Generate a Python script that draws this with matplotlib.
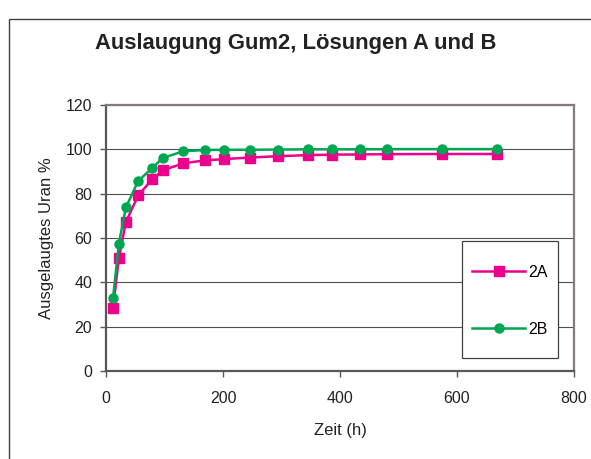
import matplotlib.pyplot as plt
from matplotlib.patches import Rectangle

plt.rcParams['font.family'] = ['Liberation Sans', 'DejaVu Sans']

# leaching time (h) and leached uranium (%)
zeit = [12, 22, 34, 55, 79, 97, 132, 169, 202, 246, 294, 346, 387, 434, 480, 575, 669]
uran_2a = [28.2, 51.0, 67.2, 79.2, 86.5, 90.5, 93.7, 95.0, 95.6, 96.3, 96.9, 97.4, 97.6, 97.7, 97.8, 97.9, 97.9]
uran_2b = [33.0, 57.5, 73.8, 85.7, 91.6, 96.1, 99.1, 99.7, 99.8, 99.8, 99.9, 100.0, 100.0, 100.0, 100.1, 100.1, 100.1]
y_ticks = [0, 20, 40, 60, 80, 100, 120]
x_ticks = [0, 200, 400, 600, 800]

pink = '#EC008C'
green = '#00A651'
frame = '#857b7b'

fig = plt.figure(figsize=(5.91, 4.59), dpi=100)

# outer chart border (runs off the right and bottom edges)
fig.patches.append(Rectangle((9 / 591, -0.1), 1.2, 1 - 19.5 / 459 + 0.1,
                             transform=fig.transFigure, fill=False,
                             edgecolor='#404040', linewidth=1.0))

ax = fig.add_axes([106 / 591, 1 - 371 / 459, 468 / 591, 266 / 459])

ax.plot(zeit, uran_2a, color=pink, linewidth=1.8, marker='s',
        markersize=6.5, label='2A', zorder=3)
ax.plot(zeit, uran_2b, color=green, linewidth=1.8, marker='o',
        markersize=6.5, label='2B', zorder=4)

ax.set_xlim(0, 800)
ax.set_ylim(0, 120)
ax.set_xticks(x_ticks)
ax.set_yticks(y_ticks)
ax.yaxis.grid(True, color='#505050', linewidth=0.8)
ax.set_axisbelow(True)

for side in ['left', 'right', 'top', 'bottom']:
    ax.spines[side].set_color(frame)
    ax.spines[side].set_linewidth(1.6)
ax.spines['left'].set_color('#5e5656')
ax.spines['bottom'].set_color('#5e5656')

ax.tick_params(axis='both', direction='out', length=4, width=1.0,
               color='#5e5656', labelsize=11.5, labelcolor='#222222')
ax.tick_params(axis='x', pad=10.5)
ax.tick_params(axis='y', pad=6)

ax.set_xlabel('Zeit (h)', fontsize=12, color='#222222', labelpad=12)
ax.set_ylabel('Ausgelaugtes Uran %', fontsize=12, color='#222222', labelpad=8)

fig.text(296 / 591, 1 - 43.5 / 459, 'Auslaugung Gum2, Lösungen A und B',
         ha='center', va='center', fontsize=15.8, fontweight='bold', color='#222222')

# legend with its own box
x0 = (462.3 - 106) / 468
x1 = (557.7 - 106) / 468
y0 = (371 - 358.3) / 266
y1 = (371 - 241) / 266
ax.add_patch(Rectangle((x0, y0), x1 - x0, y1 - y0, transform=ax.transAxes,
                       facecolor='white', edgecolor='#404040', linewidth=0.9,
                       zorder=5))
leg = ax.legend(loc='center', bbox_to_anchor=((x0 + x1) / 2, (y0 + y1 - 0.008) / 2),
                frameon=False, fontsize=11.5, handlelength=3.3,
                handletextpad=0.2, labelspacing=2.65, borderpad=0)
leg.set_zorder(6)

fig.savefig('out.png', dpi=100)
